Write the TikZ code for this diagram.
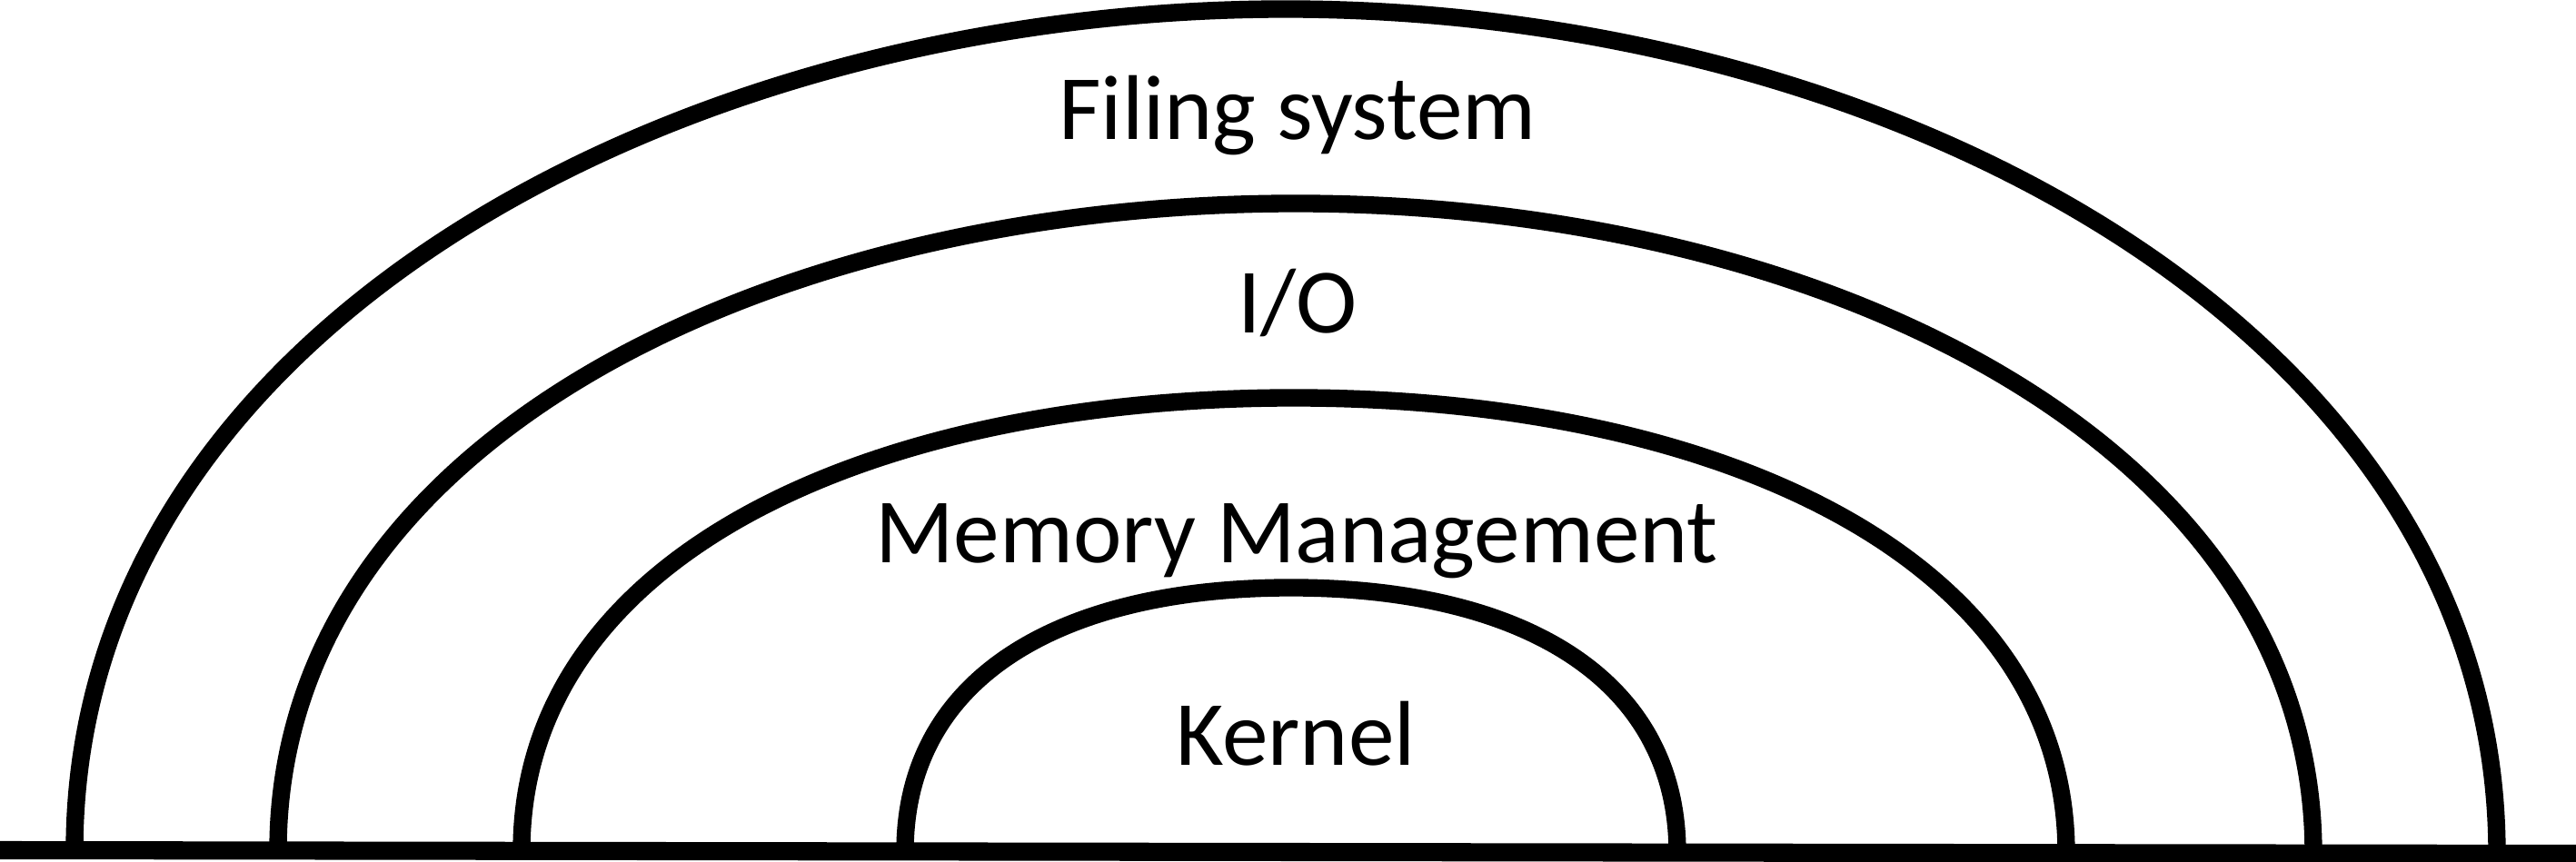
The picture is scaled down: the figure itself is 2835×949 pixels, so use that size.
\documentclass[tikz,border=0pt]{standalone}
\usepackage{fontspec}
\setmainfont{Carlito}
\begin{document}
\begin{tikzpicture}[x=0.01cm,y=0.01cm,
  arcline/.style={line width=5.5pt,black},
  baseline/.style={line width=5.7pt,black},
  lbl/.style={anchor=base,inner sep=0pt,font=\fontsize{28.8}{34}\selectfont}]
\useasboundingbox (0,0) rectangle (2835,949);
% baseline
\coordinate (bl) at (0,13);
\coordinate (br) at (2835,9);
\draw[baseline] (bl) -- (br);
% arc feet and tops
\coordinate (L1) at (82,12.6);   \coordinate (T1) at (1415,939); \coordinate (R1) at (2748,9.4);
\coordinate (L2) at (306,12.6);  \coordinate (T2) at (1426,725); \coordinate (R2) at (2546,9.6);
\coordinate (L3) at (574,12.2);  \coordinate (T3) at (1424,511); \coordinate (R3) at (2274,9.8);
\coordinate (L4) at (996,11.6);  \coordinate (T4) at (1421,302); \coordinate (R4) at (1846,10.4);
\draw[arcline] (L1) .. controls +(0,574) and +(-667,0) .. (T1) .. controls +(667,0) and +(0,574) .. (R1);
\draw[arcline] (L2) .. controls +(0,449) and +(-582,0) .. (T2) .. controls +(582,0) and +(0,449) .. (R2);
\draw[arcline] (L3) .. controls +(0,324) and +(-468,0) .. (T3) .. controls +(468,0) and +(0,324) .. (R3);
\draw[arcline] (L4) .. controls +(0,191) and +(-255,0) .. (T4) .. controls +(255,0) and +(0,191) .. (R4);
% labels
\node[lbl] (fs) at (1428,795) {Filing system};
\node[lbl] (io) at (1428,582) {I/O};
\node[lbl] (mm) at (1427,329) {Memory Management};
\node[lbl] (kn) at (1426,106) {Kernel};
\end{tikzpicture}
\end{document}
